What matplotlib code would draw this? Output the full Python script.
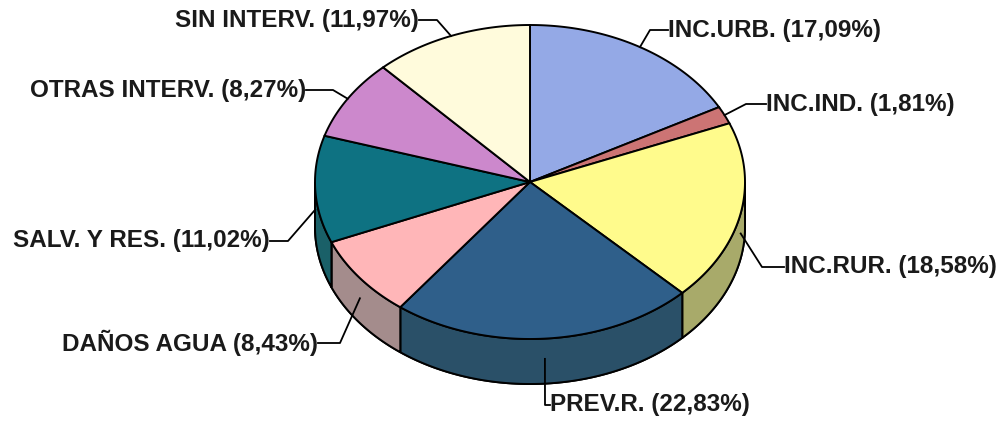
import matplotlib.pyplot as plt
import numpy as np
from matplotlib.patches import Polygon

# data (clockwise from 12 o'clock)
labels = ["INC.URB.", "INC.IND.", "INC.RUR.", "PREV.R.", "DAÑOS AGUA",
          "SALV. Y RES.", "OTRAS INTERV.", "SIN INTERV."]
values = [17.09, 1.81, 18.58, 22.83, 8.43, 11.02, 8.27, 11.97]
top_colors = ["#94A9E6", "#CC7474", "#FFFB8C", "#2F5F8A", "#FFB6B8",
              "#0E7282", "#CC88CC", "#FFFBDC"]
side_colors = ["#7486B8", "#A05858", "#A8AA6A", "#2A5068", "#A48C8C",
               "#1A6068", "#9E6A9E", "#CCC9A8"]

# pie geometry in pixel units
cx, cy, rx, ry, depth = 530, 182, 215, 157, 45

# label layout: (elbow x, elbow y, text x, text y, ha)
label_layout = [
    (650, 30, 668, 30, "left"),
    (746, 104, 766, 104, "left"),
    (762, 267, 784, 267, "left"),
    (545, 405, 550, 405, "left"),
    (340, 343, 318, 343, "right"),
    (288, 241, 270, 241, "right"),
    (333, 90, 306, 90, "right"),
    (437, 20, 419, 20, "right"),
]

fig = plt.figure(figsize=(10.04, 4.23), dpi=100)
ax = fig.add_axes([0, 0, 1, 1])
ax.set_xlim(0, 1004)
ax.set_ylim(423, 0)
ax.axis("off")


def pt(theta, dy=0):
    return cx + rx * np.cos(theta), cy - ry * np.sin(theta) + dy


fracs = np.array(values) / sum(values)
starts = np.pi / 2 - 2 * np.pi * np.concatenate([[0], np.cumsum(fracs)[:-1]])
ends = starts - 2 * np.pi * fracs

# side walls (only the front half, sin(theta) < 0)
for a0, a1, col in zip(starts, ends, side_colors):
    lo, hi = a1, a0
    for shift in (0, 2 * np.pi):
        l, h = max(lo + shift, -np.pi), min(hi + shift, 0)
        l2, h2 = max(lo + shift, np.pi), min(hi + shift, 2 * np.pi)
        for a, b in ((l, h), (l2, h2)):
            if b > a:
                t = np.linspace(a, b, 80)
                xs, ys = pt(t)
                poly = np.vstack([np.c_[xs, ys], np.c_[xs[::-1], ys[::-1] + depth]])
                ax.add_patch(Polygon(poly, closed=True, fc=col, ec="black", lw=1.4, zorder=2))

# top faces
for a0, a1, col in zip(starts, ends, top_colors):
    t = np.linspace(a0, a1, 120)
    xs, ys = pt(t)
    poly = np.vstack([[cx, cy], np.c_[xs, ys]])
    ax.add_patch(Polygon(poly, closed=True, fc=col, ec="black", lw=1.4, zorder=3))

# labels with leader lines
for lab, v, a0, a1, lay in zip(labels, values, starts, ends, label_layout):
    mid = (a0 + a1) / 2
    x0, y0 = pt(mid)
    if np.sin(mid) < 0:
        y0 += depth * 0.45
    ex, ey, tx, ty, ha = lay
    ax.plot([x0, ex, tx], [y0, ey, ty], color="black", lw=1.3, zorder=4)
    txt = "%s (%s%%)" % (lab, ("%.2f" % v).replace(".", ","))
    ax.text(tx, ty, txt, ha=ha, va="center", fontsize=17.5, fontweight="bold",
            family="Liberation Sans", color="#1a1a1a", zorder=5)

fig.savefig("out.png", dpi=100, facecolor="white")
